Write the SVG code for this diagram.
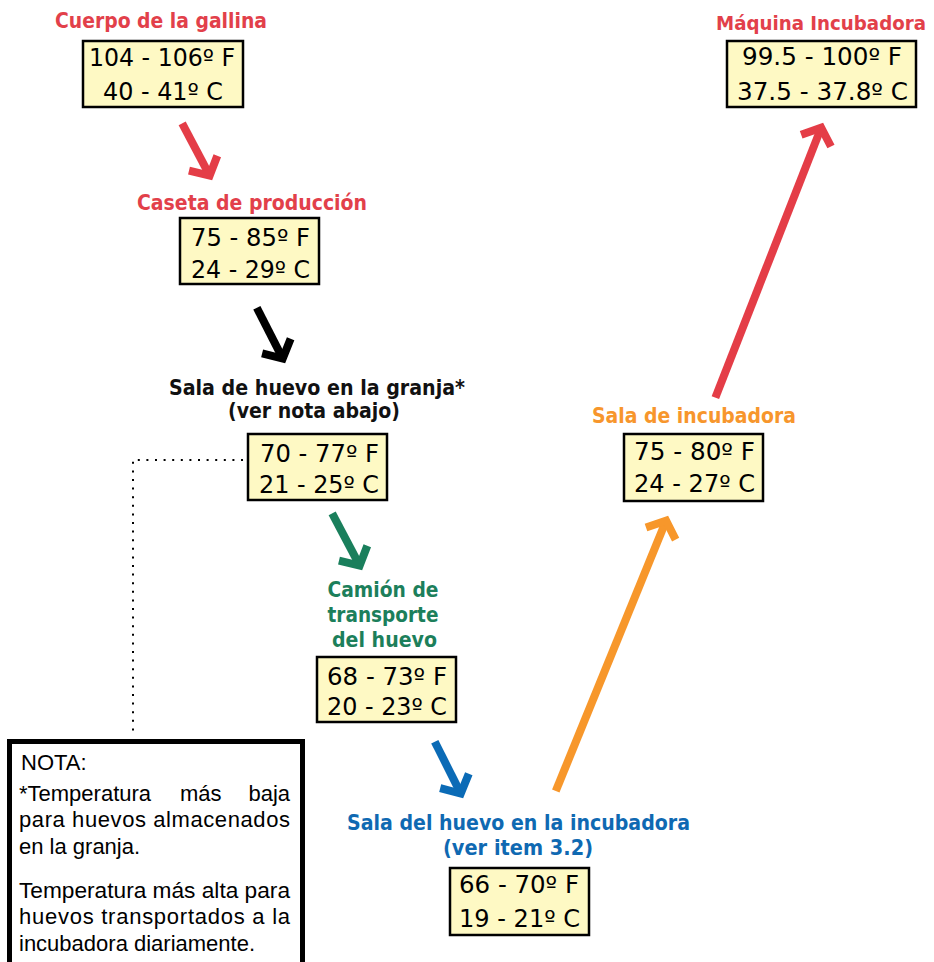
<svg xmlns="http://www.w3.org/2000/svg" xmlns:xlink="http://www.w3.org/1999/xlink" width="934" height="962" viewBox="0 0 934 962">
<style>
.bg{fill:#ffffff}
.box{fill:#fef9c4;stroke:#000;stroke-width:2.5}
.val{font-family:"DejaVu Sans","Liberation Sans",sans-serif;font-size:24px;fill:#000;text-anchor:middle}
.ttl{font-family:"DejaVu Sans","Liberation Sans",sans-serif;font-size:20.5px;font-weight:bold;text-anchor:middle}
.red{fill:#e2404a}
.org{fill:#f7962c}
.grn{fill:#1c7f5b}
.blu{fill:#0f69b2}
.blk{fill:#111}
.note{font-family:"Liberation Sans",Arial,sans-serif;font-size:22px;fill:#000}
.arrow line{stroke-width:8}
.dots{fill:none;stroke:#000;stroke-width:2;stroke-dasharray:2 6.6}
</style>
<defs>
<path id="head" d="M-19,-16 L-5,0 L-19,16" fill="none" stroke-width="8" stroke-linejoin="miter" stroke-miterlimit="10"/>
</defs>
<rect class="bg" x="0" y="0" width="934" height="962"/>

<g id="connectors">
  <path class="dots" d="M243,460 H133 V736"/>
  <g class="arrow" stroke="#e43d47" transform="translate(212,180) rotate(62.2)">
    <line x1="-64" y1="0" x2="-6" y2="0"/><use xlink:href="#head"/>
  </g>
  <g class="arrow" stroke="#000" transform="translate(285,363) rotate(63)">
    <line x1="-62" y1="0" x2="-6" y2="0"/><use xlink:href="#head"/>
  </g>
  <g class="arrow" stroke="#1a7f5c" transform="translate(362,570) rotate(62.2)">
    <line x1="-64" y1="0" x2="-6" y2="0"/><use xlink:href="#head"/>
  </g>
  <g class="arrow" stroke="#0b6bb6" transform="translate(463,798) rotate(63.4)">
    <line x1="-63" y1="0" x2="-6" y2="0"/><use xlink:href="#head"/>
  </g>
  <g class="arrow" stroke="#f7972b" transform="translate(668,516) rotate(-67.8)">
    <line x1="-297" y1="0" x2="-6" y2="0"/><use xlink:href="#head"/>
  </g>
  <g class="arrow" stroke="#e43d47" transform="translate(823,123) rotate(-68.6)">
    <line x1="-295" y1="0" x2="-6" y2="0"/><use xlink:href="#head"/>
  </g>
</g>

<g id="cuerpo">
  <text class="ttl red" x="161" y="28" textLength="212" lengthAdjust="spacingAndGlyphs">Cuerpo de la gallina</text>
  <rect class="box" x="83" y="41" width="160" height="66"/>
  <text class="val" x="162" y="66" textLength="146" lengthAdjust="spacingAndGlyphs">104 - 106º F</text>
  <text class="val" x="163" y="100" textLength="120" lengthAdjust="spacingAndGlyphs">40 - 41º C</text>
</g>

<g id="caseta">
  <text class="ttl red" x="252" y="210" textLength="230" lengthAdjust="spacingAndGlyphs">Caseta de producción</text>
  <rect class="box" x="180" y="218" width="139" height="66"/>
  <text class="val" x="250.5" y="246" textLength="119" lengthAdjust="spacingAndGlyphs">75 - 85º F</text>
  <text class="val" x="250.5" y="278" textLength="119" lengthAdjust="spacingAndGlyphs">24 - 29º C</text>
</g>

<g id="sala-granja">
  <text class="ttl blk" x="317" y="395" textLength="296" lengthAdjust="spacingAndGlyphs">Sala de huevo en la granja*</text>
  <text class="ttl blk" x="314" y="418" textLength="172" lengthAdjust="spacingAndGlyphs">(ver nota abajo)</text>
  <rect class="box" x="248" y="434" width="139" height="66"/>
  <text class="val" x="319.5" y="462" textLength="119" lengthAdjust="spacingAndGlyphs">70 - 77º F</text>
  <text class="val" x="319" y="493" textLength="120" lengthAdjust="spacingAndGlyphs">21 - 25º C</text>
</g>

<g id="camion">
  <text class="ttl grn" x="383" y="597" textLength="111" lengthAdjust="spacingAndGlyphs">Camión de</text>
  <text class="ttl grn" x="383" y="622" textLength="111" lengthAdjust="spacingAndGlyphs">transporte</text>
  <text class="ttl grn" x="384.5" y="647" textLength="105" lengthAdjust="spacingAndGlyphs">del huevo</text>
  <rect class="box" x="317" y="657" width="139" height="65"/>
  <text class="val" x="387" y="685" textLength="120" lengthAdjust="spacingAndGlyphs">68 - 73º F</text>
  <text class="val" x="387" y="715" textLength="120" lengthAdjust="spacingAndGlyphs">20 - 23º C</text>
</g>

<g id="sala-incubadora-huevo">
  <text class="ttl blu" x="518.5" y="830" textLength="343" lengthAdjust="spacingAndGlyphs">Sala del huevo en la incubadora</text>
  <text class="ttl blu" x="518" y="855" textLength="150" lengthAdjust="spacingAndGlyphs">(ver item 3.2)</text>
  <rect class="box" x="450" y="868" width="139" height="67"/>
  <text class="val" x="519" y="893" textLength="120" lengthAdjust="spacingAndGlyphs">66 - 70º F</text>
  <text class="val" x="519.5" y="927" textLength="121" lengthAdjust="spacingAndGlyphs">19 - 21º C</text>
</g>

<g id="sala-incubadora">
  <text class="ttl org" x="694" y="423" textLength="204" lengthAdjust="spacingAndGlyphs">Sala de incubadora</text>
  <rect class="box" x="624" y="434" width="139" height="67"/>
  <text class="val" x="694.5" y="460" textLength="121" lengthAdjust="spacingAndGlyphs">75 - 80º F</text>
  <text class="val" x="694.5" y="492" textLength="121" lengthAdjust="spacingAndGlyphs">24 - 27º C</text>
</g>

<g id="maquina">
  <text class="ttl red" x="821" y="30" textLength="210" lengthAdjust="spacingAndGlyphs" style="font-size:19px">Máquina Incubadora</text>
  <rect class="box" x="727" y="41" width="189" height="66"/>
  <text class="val" x="822" y="65" textLength="160" lengthAdjust="spacingAndGlyphs">99.5 - 100º F</text>
  <text class="val" x="822.5" y="100" textLength="171" lengthAdjust="spacingAndGlyphs">37.5 - 37.8º C</text>
</g>

<g id="nota">
  <rect x="9.5" y="741.5" width="293" height="240" fill="#fff" stroke="#000" stroke-width="5"/>
  <text class="note" x="21" y="770">NOTA:</text>
  <text class="note" x="19" y="801">*Temperatura</text>
  <text class="note" x="180" y="801">más</text>
  <text class="note" x="290" y="801" text-anchor="end">baja</text>
  <text class="note" x="19" y="827" textLength="271">para huevos almacenados</text>
  <text class="note" x="19" y="854">en la granja.</text>
  <text class="note" x="19" y="898" textLength="271" lengthAdjust="spacingAndGlyphs">Temperatura más alta para</text>
  <text class="note" x="19" y="924" textLength="271">huevos transportados a la</text>
  <text class="note" x="19" y="951">incubadora diariamente.</text>
</g>
</svg>
